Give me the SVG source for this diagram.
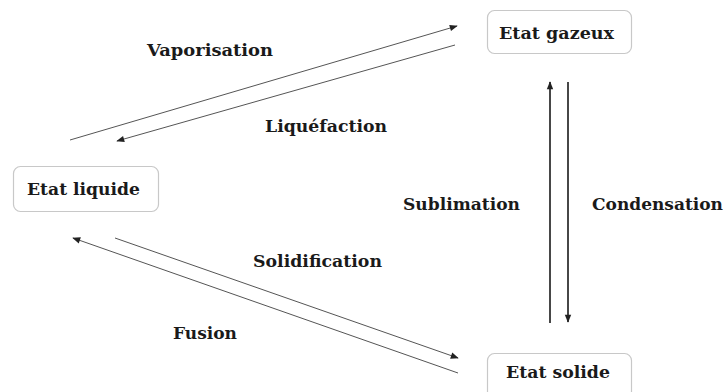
<svg xmlns="http://www.w3.org/2000/svg" width="726" height="392" viewBox="0 0 726 392">
<style>
.box{fill:#fff;stroke:#c8c8c8;stroke-width:1.2}
.t{font-family:'DejaVu Serif','Liberation Serif',serif;font-weight:bold;font-size:17.5px;fill:#1a1a1a}
.c{stroke:#555;stroke-width:1;fill:none}
.v{stroke:#333;stroke-width:1.8;fill:none}
</style>
<defs>
<marker id="ah" viewBox="0 0 10 10" refX="9" refY="5" markerWidth="9" markerHeight="8" markerUnits="userSpaceOnUse" orient="auto"><path d="M0,1 L10,5 L0,9 Z" fill="#222"/></marker>
<marker id="ahv" viewBox="0 0 10 10" refX="9" refY="5" markerWidth="9" markerHeight="8" markerUnits="userSpaceOnUse" orient="auto"><path d="M0,1 L10,5 L0,9 Z" fill="#222"/></marker>
</defs>
<rect width="726" height="392" fill="#fff"/>
<g id="gazeux"><rect class="box" x="487.5" y="10.5" width="144" height="43" rx="7"/><text class="t" x="499" y="39" textLength="115" lengthAdjust="spacingAndGlyphs">Etat gazeux</text></g>
<g id="liquide"><rect class="box" x="13.5" y="166.5" width="145" height="45" rx="7"/><text class="t" x="27" y="195" textLength="113" lengthAdjust="spacingAndGlyphs">Etat liquide</text></g>
<g id="solide"><rect class="box" x="487.5" y="353.5" width="144" height="45" rx="7"/><text class="t" x="506" y="378" textLength="104" lengthAdjust="spacingAndGlyphs">Etat solide</text></g>
<g id="connectors">
<line class="c" x1="70" y1="140" x2="457" y2="26" marker-end="url(#ah)"/>
<line class="c" x1="455" y1="45" x2="117" y2="141" marker-end="url(#ah)"/>
<line class="c" x1="458" y1="373" x2="73" y2="238" marker-end="url(#ah)"/>
<line class="c" x1="115" y1="238" x2="458" y2="358" marker-end="url(#ah)"/>
<line class="v" x1="550" y1="323" x2="550" y2="82" marker-end="url(#ahv)"/>
<line class="v" x1="568" y1="82" x2="568" y2="322" marker-end="url(#ahv)"/>
</g>
<g id="labels">
<text class="t" x="147" y="56" textLength="126" lengthAdjust="spacingAndGlyphs">Vaporisation</text>
<text class="t" x="265" y="132" textLength="122" lengthAdjust="spacingAndGlyphs">Liquéfaction</text>
<text class="t" x="253" y="267" textLength="129" lengthAdjust="spacingAndGlyphs">Solidification</text>
<text class="t" x="173" y="339" textLength="64" lengthAdjust="spacingAndGlyphs">Fusion</text>
<text class="t" x="403" y="210" textLength="117" lengthAdjust="spacingAndGlyphs">Sublimation</text>
<text class="t" x="592" y="210" textLength="131" lengthAdjust="spacingAndGlyphs">Condensation</text>
</g>
</svg>
